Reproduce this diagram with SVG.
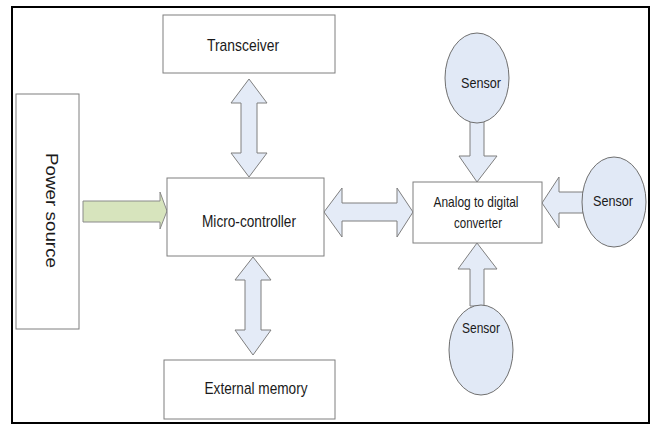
<svg xmlns="http://www.w3.org/2000/svg" width="652" height="425" viewBox="0 0 652 425">
<style>
.box{fill:#ffffff;stroke:#7f7f7f;stroke-width:1}
.arr{fill:#e4ebf7;stroke:#7f7f7f;stroke-width:1;stroke-linejoin:miter}
.garr{fill:#d7e4bd;stroke:#8a8a8a;stroke-width:1}
.sen{fill:#e1e9f6;stroke:#6f6f6f;stroke-width:1}
.t{font-family:"Liberation Sans",Arial,sans-serif;fill:#1a1a1a;text-anchor:middle}
</style>
<rect x="0" y="0" width="652" height="425" fill="#ffffff"/>
<rect x="12" y="7" width="637" height="416" fill="none" stroke="#000" stroke-width="2"/>
<g id="connectors">
  <path class="garr" d="M83,201 L160,201 L160,192 L167,211 L160,229 L160,222 L83,222 Z"/>
  <path class="arr" d="M249,79 L267,103 L257,103 L257,153 L267,153 L249,177 L231,153 L241,153 L241,103 L231,103 Z"/>
  <path class="arr" d="M253,257 L271,280 L261,280 L261,330 L271,330 L253,355 L235,330 L245,330 L245,280 L235,280 Z"/>
  <path class="arr" d="M324,212 L342,188 L342,203 L397,203 L397,188 L413,212 L397,237 L397,221 L342,221 L342,237 Z"/>
  <path class="arr" d="M470,120 L484,120 L484,156 L497,156 L477,182 L459,156 L470,156 Z"/>
  <path class="arr" d="M583,192 L559,192 L559,177 L542,203 L559,228 L559,213 L583,213 Z"/>
  <path class="arr" d="M470,306 L484,306 L484,269 L497,269 L477,243 L458,269 L470,269 Z"/>
</g>
<g id="power-source">
  <rect class="box" x="16" y="94" width="63" height="235"/>
  <text class="t" font-size="16" transform="translate(46,210.5) rotate(90)" textLength="115" lengthAdjust="spacingAndGlyphs">Power source</text>
</g>
<g id="transceiver">
  <rect class="box" x="163" y="15" width="172" height="58"/>
  <text class="t" font-size="17" x="243" y="51" textLength="72" lengthAdjust="spacingAndGlyphs">Transceiver</text>
</g>
<g id="micro-controller">
  <rect class="box" x="167" y="178" width="157" height="78"/>
  <text class="t" font-size="17" x="249" y="227" textLength="94" lengthAdjust="spacingAndGlyphs">Micro-controller</text>
</g>
<g id="external-memory">
  <rect class="box" x="164" y="360" width="171" height="59"/>
  <text class="t" font-size="17" x="256" y="394" textLength="103" lengthAdjust="spacingAndGlyphs">External memory</text>
</g>
<g id="adc">
  <rect class="box" x="413" y="182" width="129" height="61"/>
  <text class="t" font-size="15" x="476" y="207" textLength="85" lengthAdjust="spacingAndGlyphs">Analog to digital</text>
  <text class="t" font-size="15" x="478" y="228" textLength="48" lengthAdjust="spacingAndGlyphs">converter</text>
</g>
<g id="sensor-top">
  <ellipse class="sen" cx="477" cy="78" rx="32" ry="45"/>
  <text class="t" font-size="15" x="481" y="88" textLength="40" lengthAdjust="spacingAndGlyphs">Sensor</text>
</g>
<g id="sensor-right">
  <ellipse class="sen" cx="614" cy="202" rx="32" ry="45"/>
  <text class="t" font-size="15" x="613" y="206" textLength="40" lengthAdjust="spacingAndGlyphs">Sensor</text>
</g>
<g id="sensor-bottom">
  <ellipse class="sen" cx="481" cy="350" rx="32" ry="45"/>
  <text class="t" font-size="15" x="481" y="333" textLength="38" lengthAdjust="spacingAndGlyphs">Sensor</text>
</g>
</svg>
